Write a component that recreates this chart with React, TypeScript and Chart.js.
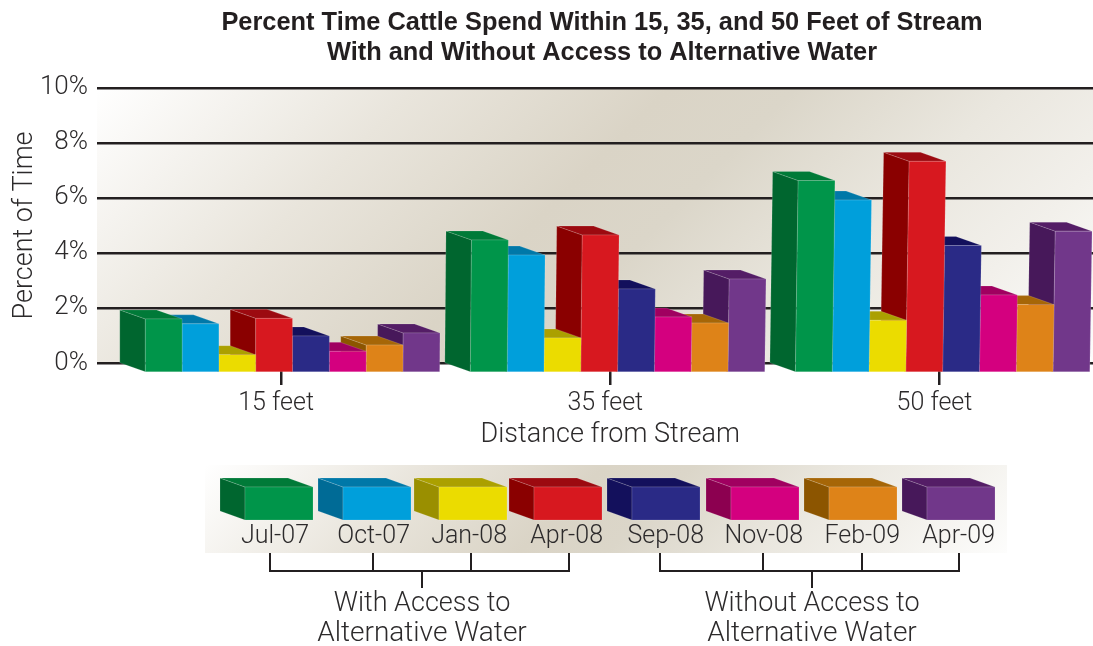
import { useEffect, useRef } from "react";
import { Chart, registerables, BarController, BarElement } from "chart.js";

const categories = ["15 feet", "35 feet", "50 feet"];
const seriesNames = ["Jul-07", "Oct-07", "Jan-08", "Apr-08", "Sep-08", "Nov-08", "Feb-09", "Apr-09"];

const jul07 = [1.93, 4.8, 6.96];
const oct07 = [1.75, 4.25, 6.25];
const jan08 = [0.63, 1.24, 1.88];
const apr08 = [1.95, 4.98, 7.66];
const sep08 = [1.31, 3.02, 4.6];
const nov08 = [0.75, 2.0, 2.8];
const feb09 = [0.98, 1.78, 2.45];
const apr09 = [1.42, 3.38, 5.12];
const seriesValues = [jul07, oct07, jan08, apr08, sep08, nov08, feb09, apr09];

const frontColors = ["#00954a", "#009fdb", "#ebdc00", "#d7181f", "#2a2a86", "#d4007f", "#de8318", "#71378a"];
const sideColors = ["#00662f", "#006b96", "#9a8f00", "#8a0000", "#13105c", "#8c0050", "#8c5500", "#47185a"];
const topColors = ["#007a38", "#0078a8", "#aba000", "#9c0a10", "#13105c", "#a00060", "#a66607", "#541d66"];

const leftGroupLabel = ["With Access to", "Alternative Water"];
const rightGroupLabel = ["Without Access to", "Alternative Water"];

const FONT = "Roboto, 'Liberation Sans', sans-serif";
const TITLE_FONT = "'Liberation Sans', Arial, sans-serif";
const INK = "#2c2a2b";
const DEPTH_X = 25.5;
const DEPTH_Y = 9;

function paintBox(
  ctx: CanvasRenderingContext2D,
  left: number,
  right: number,
  top: number,
  bottom: number,
  idx: number,
  lean: number,
  dx = DEPTH_X,
  dy = DEPTH_Y
) {
  const face = (pts: number[][], fill: string) => {
    ctx.beginPath();
    pts.forEach(([px, py], i) => (i ? ctx.lineTo(px, py) : ctx.moveTo(px, py)));
    ctx.closePath();
    ctx.fillStyle = fill;
    ctx.fill();
    ctx.strokeStyle = "rgba(255,255,255,0.2)";
    ctx.lineWidth = 0.75;
    ctx.stroke();
  };
  // Side, top, then front so the nearer face lands last.
  face(
    [
      [left, bottom],
      [left + lean, top],
      [left + dx + lean, top + dy],
      [left + dx, bottom + dy],
    ],
    sideColors[idx]
  );
  face(
    [
      [left + lean, top],
      [right + lean, top],
      [right + dx + lean, top + dy],
      [left + dx + lean, top + dy],
    ],
    topColors[idx]
  );
  face(
    [
      [left + dx, bottom + dy],
      [left + dx + lean, top + dy],
      [right + dx + lean, top + dy],
      [right + dx, bottom + dy],
    ],
    frontColors[idx]
  );
}

// Bar element that extrudes each bar towards the viewer.
class Box3DElement extends BarElement {
  static id = "box3d";
  draw(ctx: CanvasRenderingContext2D) {
    const { x, y, base, width } = (this as any).getProps(["x", "y", "base", "width"]);
    const idx = frontColors.indexOf((this as any).options.backgroundColor);
    const bottom = base + 1;
    // Tall bars towards the right drift a little to the right as they rise.
    const drift = Math.sqrt(Math.min(1, Math.max(x - 267, 0) / 640));
    const lean = (bottom - y) * 0.016 * drift;
    ctx.save();
    paintBox(ctx, x - width / 2, x + width / 2, y, bottom, idx, lean);
    ctx.restore();
  }
}

class Bar3DController extends BarController {
  static id = "bar3d";
  static defaults = { dataElementType: "box3d" };
}

Chart.register(...registerables, Box3DElement, Bar3DController);

function beigeSweep(ctx: CanvasRenderingContext2D, left: number, top: number, span: number) {
  const g = ctx.createLinearGradient(left, top, left + span / 2, top + span / 2);
  g.addColorStop(0, "#ffffff");
  g.addColorStop(0.25, "#e9e5dc");
  g.addColorStop(0.45, "#dad4c6");
  g.addColorStop(0.55, "#dbd6c9");
  g.addColorStop(0.72, "#eae7df");
  g.addColorStop(0.85, "#f2f0eb");
  g.addColorStop(1, "#fdfdfc");
  return g;
}

const plotBackdrop = {
  id: "plotBackdrop",
  afterLayout(chart: any) {
    // Centre the heading over the plot rather than the full canvas.
    chart.titleBlock.left = 0;
    chart.titleBlock.right = 1204;
  },
  beforeDraw(chart: any) {
    const { ctx, chartArea, scales } = chart;
    const left = scales.y.right - 19.5;
    const right = 1093;
    const { top, bottom } = chartArea;
    ctx.save();
    ctx.fillStyle = beigeSweep(ctx, left, top, right - left + (bottom - top));
    ctx.fillRect(left, top, right - left, bottom - top);
    ctx.restore();
  },
};

const legendKey = {
  id: "legendKey",
  afterDraw(chart: any) {
    const { ctx } = chart;
    ctx.save();
    // Legend panel
    const px = 205, py = 465, pw = 802, ph = 88;
    ctx.fillStyle = beigeSweep(ctx, px, py, pw + ph);
    ctx.fillRect(px, py, pw, ph);

    const boxLefts = [220, 318, 414, 509, 607, 706, 804, 902];
    const labelRights = [309, 410, 507, 603, 704, 803, 900, 995];
    ctx.textBaseline = "middle";
    seriesNames.forEach((name, i) => {
      paintBox(ctx, boxLefts[i], boxLefts[i] + 68, 478, 511, i, 0, 25, 9);
      ctx.fillStyle = INK;
      ctx.font = `300 25px ${FONT}`;
      ctx.textAlign = "right";
      ctx.fillText(name, labelRights[i], 537);
    });

    // Brackets tying each period to its access group
    const bracket = (xs: number[], stem: number) => {
      ctx.strokeStyle = "#231f20";
      ctx.lineWidth = 2;
      ctx.beginPath();
      xs.forEach((bx) => {
        ctx.moveTo(bx, 553);
        ctx.lineTo(bx, 571);
      });
      ctx.moveTo(xs[0] - 1, 571);
      ctx.lineTo(xs[xs.length - 1] + 1, 571);
      ctx.moveTo(stem, 571);
      ctx.lineTo(stem, 588);
      ctx.stroke();
    };
    bracket([270, 373, 471, 569], 422);
    bracket([660, 763, 862, 959], 812);

    ctx.fillStyle = INK;
    ctx.font = `300 27px ${FONT}`;
    ctx.textAlign = "center";
    leftGroupLabel.forEach((t, i) => {
      ctx.font = `300 ${i ? 28 : 27}px ${FONT}`;
      ctx.fillText(t, 422, 604 + i * 30);
    });
    rightGroupLabel.forEach((t, i) => {
      ctx.font = `300 ${i ? 28 : 27}px ${FONT}`;
      ctx.fillText(t, 812, 604 + i * 30);
    });
    ctx.restore();
  },
};

export default function App() {
  const ref = useRef<HTMLCanvasElement>(null);
  useEffect(() => {
    document.body.style.margin = "0";
    const chart = new Chart(ref.current as HTMLCanvasElement, {
      type: "bar3d" as any,
      data: {
        labels: categories,
        datasets: seriesNames.map((name, i) => ({
          label: name,
          data: seriesValues[i].map((v, c) => ({ x: c, y: v })),
          backgroundColor: frontColors[i],
          xAxisID: "xBars",
          barThickness: 36.8,
          clip: false,
        })),
      } as any,
      plugins: [plotBackdrop, legendKey],
      options: {
        responsive: false,
        animation: false,
        layout: { padding: { left: 9, right: 6, bottom: 195 } },
        plugins: {
          legend: { display: false },
          tooltip: { enabled: false },
          title: {
            display: true,
            text: [
              "Percent Time Cattle Spend Within 15, 35, and 50 Feet of Stream",
              "With and Without Access to Alternative Water",
            ],
            color: "#231f20",
            font: { family: TITLE_FONT, size: 25.4, weight: "bold", lineHeight: 1.18 },
            padding: { top: 8, bottom: 20 },
          },
        },
        scales: {
          xBars: {
            type: "linear",
            axis: "x",
            display: false,
            offset: false,
            min: -0.463,
            max: 2.575,
            ticks: { stepSize: 1, includeBounds: false },
          },
          x: {
            type: "category",
            offset: true,
            position: "bottom",
            afterFit: (s: any) => {
              s.height = 88;
            },
            grid: {
              offset: false,
              drawOnChartArea: false,
              drawTicks: true,
              tickLength: 22,
              color: "#231f20",
              lineWidth: 2.5,
            },
            border: { display: false },
            ticks: {
              color: INK,
              font: { family: FONT, size: 25, weight: 300 },
              padding: 4,
              labelOffset: -5,
              maxRotation: 0,
            },
            title: {
              display: true,
              text: "Distance from Stream",
              color: INK,
              font: { family: FONT, size: 27, weight: 300 },
              padding: 0,
            },
          },
          y: {
            min: 0,
            max: 10,
            afterFit: (s: any) => {
              s.width = 107.5;
            },
            grid: { color: "#231f20", lineWidth: 2.5, tickLength: 19.5 },
            border: { display: false },
            ticks: {
              stepSize: 2,
              color: INK,
              font: { family: FONT, size: 26, weight: 300 },
              padding: 9,
              callback: (v: any) => `${v}%`,
            },
            title: {
              display: true,
              text: "Percent of Time",
              color: INK,
              font: { family: FONT, size: 27, weight: 300 },
              padding: 0,
            },
          },
        },
      },
    } as any);
    return () => chart.destroy();
  }, []);
  return (
    <div style={{ width: 1093, height: 646, overflow: "hidden" }}>
      <canvas ref={ref} width={1110} height={646} style={{ display: "block", width: 1110, height: 646 }} />
    </div>
  );
}
